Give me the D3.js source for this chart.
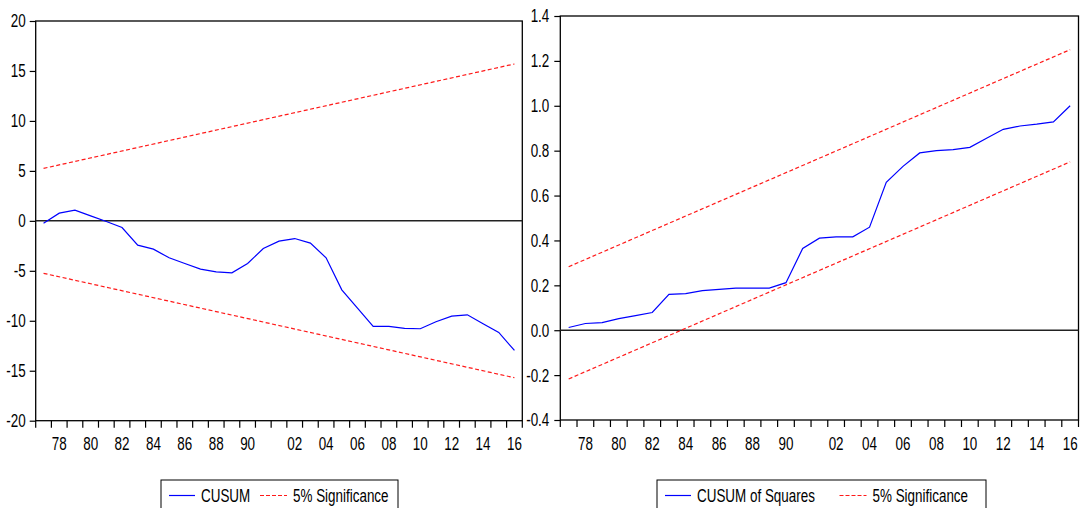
<!DOCTYPE html>
<html>
<head>
<meta charset="utf-8">
<script src="https://cdn.jsdelivr.net/npm/d3@7"></script>
<style>
  body { margin: 0; background: #fff; }
  svg { display: block; font-family: "Liberation Sans Narrow", "Arial Narrow", "Liberation Sans", Arial, sans-serif; }
</style>
</head>
<body>
<div id="chart"></div>
<script>
// observations (gap between 1991 and 2001 in the sample)
const years = [1977,1978,1979,1980,1981,1982,1983,1984,1985,1986,1987,1988,1989,1990,1991,
  2001,2002,2003,2004,2005,2006,2007,2008,2009,2010,2011,2012,2013,2014,2015,2016];

const cusum = [-0.23, 0.77, 1.07, 0.5, -0.07, -0.67, -2.43, -2.83, -3.7, -4.27, -4.83, -5.1, -5.2, -4.27, -2.77,
  -2.03, -1.77, -2.23, -3.7, -6.9, -8.73, -10.57, -10.57, -10.77, -10.8, -10.1, -9.53, -9.4, -10.3, -11.17, -12.97];
// 5% bounds, first and last observation
const cusumUpper = [5.25, 15.7];
const cusumLower = [-5.25, -15.7];
const cusumTicks = [-20, -15, -10, -5, 0, 5, 10, 15, 20];

const cusumSq = [0.012, 0.030, 0.034, 0.052, 0.065, 0.079, 0.160, 0.163, 0.176, 0.182, 0.188, 0.188, 0.188, 0.212, 0.364,
  0.410, 0.416, 0.416, 0.459, 0.659, 0.73, 0.79, 0.80, 0.805, 0.815, 0.855, 0.895, 0.91, 0.918, 0.928, 1.0];
const sqUpper = [0.283, 1.25];
const sqLower = [-0.217, 0.75];
const sqTicks = [-0.4, -0.2, 0.0, 0.2, 0.4, 0.6, 0.8, 1.0, 1.2, 1.4];

const W = 1080, H = 508;
//narrow, slightly tall lettering like the original
const SX = 0.84, SY = 1.16;
const STRETCH = `scale(${SX},${SY})`;

const svg = d3.select('#chart').append('svg').attr('width', W).attr('height', H);
svg.append('rect').attr('width', W).attr('height', H).attr('fill', '#fff');

function drawPanel(opts){
  const x = d3.scaleBand().domain(years).range([opts.left, opts.right]).padding(0);
  const y = d3.scaleLinear().domain(opts.domain).range([opts.bottom, opts.top]);
  const cx = d => x(d) + x.bandwidth()/2;
  const g = svg.append('g');

  //frame
  g.append('rect')
    .attr('x', opts.left).attr('y', opts.top)
    .attr('width', opts.right - opts.left).attr('height', opts.bottom - opts.top)
    .attr('fill', 'none').attr('stroke', '#000').attr('stroke-width', 1.3);

  //y axis
  const yAxis = g.append('g')
    .attr('transform', `translate(${opts.left},0)`)
    .call(d3.axisLeft(y).tickValues(opts.ticks).tickSize(6).tickFormat(opts.fmt));
  yAxis.select('.domain').remove();
  yAxis.selectAll('line').attr('stroke', '#000').attr('stroke-width', 1.2);
  yAxis.selectAll('text')
    .attr('font-size', 16).attr('fill', '#000').attr('font-family', null)
    .attr('x', -(6 + opts.pad) / SX)
    .attr('transform', STRETCH);

  //x ticks at period boundaries
  const bounds = years.map(d => x(d)).concat([opts.right]);
  g.selectAll('.xtick').data(bounds).join('line')
    .attr('class', 'xtick')
    .attr('x1', d => d).attr('x2', d => d)
    .attr('y1', opts.bottom).attr('y2', opts.bottom + 7)
    .attr('stroke', '#000').attr('stroke-width', 1.2);

  //labels on even years
  g.selectAll('.xlab').data(years.filter(d => d % 2 === 0)).join('g')
    .attr('class', 'xlab')
    .attr('transform', d => `translate(${cx(d)},450)`)
    .append('text')
    .attr('text-anchor', 'middle').attr('font-size', 16).attr('transform', STRETCH)
    .text(d => String(d % 100).padStart(2, '0'));

  //zero line
  g.append('line')
    .attr('x1', opts.left).attr('x2', opts.right)
    .attr('y1', y(0)).attr('y2', y(0))
    .attr('stroke', '#222').attr('stroke-width', 1.5);

  //significance bounds
  const first = years[0], last = years[years.length - 1];
  [opts.upper, opts.lower].forEach(b => {
    g.append('line')
      .attr('x1', cx(first)).attr('y1', y(b[0]))
      .attr('x2', cx(last)).attr('y2', y(b[1]))
      .attr('stroke', '#ff1a1a').attr('stroke-width', 1.2).attr('stroke-dasharray', '4,2.5');
  });

  //series
  const line = d3.line().x((d, i) => cx(years[i])).y(d => y(d));
  g.append('path')
    .datum(opts.values)
    .attr('d', line)
    .attr('fill', 'none').attr('stroke', '#0000ff').attr('stroke-width', 1.2);

  //legend
  const lg = svg.append('g');
  lg.append('rect')
    .attr('x', opts.legend.x).attr('y', 480)
    .attr('width', opts.legend.w).attr('height', 34)
    .attr('fill', '#fff').attr('stroke', '#000').attr('stroke-width', 1);
  lg.append('line')
    .attr('x1', opts.legend.x + 8).attr('x2', opts.legend.x + 34)
    .attr('y1', 495.5).attr('y2', 495.5)
    .attr('stroke', '#0000ff').attr('stroke-width', 1.2);
  lg.append('g').attr('transform', `translate(${opts.legend.x + 40},501.5)`)
    .append('text').attr('font-size', 16).attr('transform', STRETCH).text(opts.name);
  lg.append('line')
    .attr('x1', opts.legend.red).attr('x2', opts.legend.red + 27)
    .attr('y1', 495.5).attr('y2', 495.5)
    .attr('stroke', '#ff1a1a').attr('stroke-width', 1.2).attr('stroke-dasharray', '4,2');
  lg.append('g').attr('transform', `translate(${opts.legend.red + 33},501.5)`)
    .append('text').attr('font-size', 16).attr('transform', STRETCH).text('5% Significance');
}

drawPanel({
  left: 35.7, right: 522.3, top: 21, bottom: 420.7,
  domain: [-20, 20], ticks: cusumTicks, fmt: d => String(d), pad: 4,
  values: cusum, upper: cusumUpper, lower: cusumLower,
  name: 'CUSUM', legend: {x: 161, w: 237, red: 260}
});

drawPanel({
  left: 560.3, right: 1078.5, top: 16, bottom: 420,
  domain: [-0.4, 1.4], ticks: sqTicks, fmt: d => d.toFixed(1), pad: 5,
  values: cusumSq, upper: sqUpper, lower: sqLower,
  name: 'CUSUM of Squares', legend: {x: 657, w: 329, red: 839.5}
});
</script>
</body>
</html>
